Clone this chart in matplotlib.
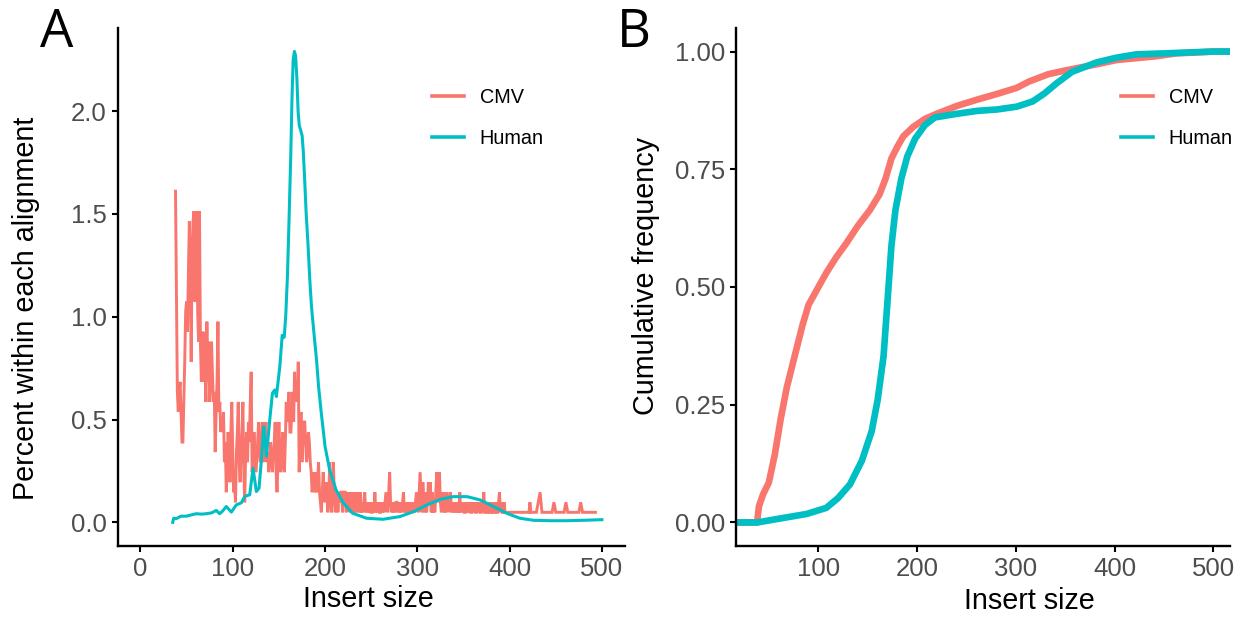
import numpy as np
import matplotlib.pyplot as plt
from matplotlib.lines import Line2D

plt.rcParams['font.family'] = ['Liberation Sans', 'DejaVu Sans']

CMV_COLOR = '#F8766D'
HUMAN_COLOR = '#00BFC4'

# panel A: CMV read counts per insert size (1 read ~ 0.0488 % of the alignment)
cmv_first_size = 38
cmv_counts = [
    33, 23, 13, 11, 13, 14, 11, 8, 8, 12,
    16, 21, 22, 19, 25, 30, 25, 16, 27, 30,
    31, 22, 27, 31, 21, 18, 31, 18, 14, 16,
    19, 14, 15, 12, 20, 14, 18, 12, 14, 18,
    15, 12, 13, 7, 11, 14, 20, 11, 12, 9,
    10, 9, 11, 6, 8, 3, 6, 9, 7, 4,
    9, 12, 7, 3, 4, 2, 7, 9, 12, 6,
    4, 7, 9, 12, 5, 2, 7, 9, 6, 10,
    8, 12, 15, 5, 6, 9, 7, 5, 6, 8,
    10, 7, 6, 8, 10, 6, 7, 9, 10, 6,
    7, 5, 6, 8, 6, 5, 7, 8, 10, 5,
    3, 6, 10, 7, 5, 6, 9, 6, 5, 8,
    12, 10, 11, 13, 9, 9, 11, 13, 10, 15,
    12, 13, 12, 16, 5, 9, 11, 6, 8, 10,
    10, 8, 6, 7, 9, 8, 6, 5, 3, 4,
    5, 3, 5, 3, 4, 6, 3, 2, 1, 3,
    5, 3, 2, 4, 3, 1, 2, 6, 3, 1,
    3, 6, 3, 1, 2, 3, 1, 3, 2, 3,
    3, 1, 3, 3, 3, 1, 3, 2, 3, 1,
    3, 1, 3, 2, 1, 3, 1, 2, 3, 1,
    3, 1, 2, 1, 2, 3, 1, 2, 1, 2,
    1, 2, 1, 1, 2, 1, 3, 1, 2, 1,
    2, 1, 1, 2, 1, 2, 1, 2, 3, 2,
    1, 3, 5, 2, 1, 2, 1, 2, 1, 2,
    2, 1, 2, 1, 2, 1, 2, 3, 1, 2,
    1, 2, 1, 2, 1, 1, 2, 1, 2, 1,
    2, 3, 2, 1, 3, 5, 3, 1, 4, 2,
    1, 3, 1, 2, 4, 2, 4, 1, 3, 1,
    2, 1, 3, 5, 2, 3, 5, 2, 1, 2,
    3, 1, 2, 1, 3, 2, 1, 2, 3, 1,
    2, 1, 2, 1, 2, 1, 2, 1, 3, 1,
    2, 1, 2, 1, 1, 2, 1, 2, 1, 2,
    1, 1, 2, 1, 2, 1, 1, 2, 1, 2,
    1, 1, 2, 1, 3, 1, 1, 2, 1, 1,
    2, 1, 1, 2, 1, 1, 1, 2, 1, 1,
    2, 3, 1, 2, 1, 1, 2, 1,
]
cmv_tail_size = [399, 421, 422, 423, 429, 431, 433, 435, 446, 448, 450,
                 459, 461, 463, 475, 477, 479, 493]
cmv_tail_count = [1, 1, 2, 1, 1, 2, 3, 1, 1, 2, 1, 1, 2, 1, 1, 2, 1, 1]
pct_per_read = 0.0488

# panel A: human insert size density (percent)
human_size = [35, 36, 38.7, 44, 49.6, 55, 60.5, 66, 71.3, 77, 82.2, 85.8, 89, 93,
              98.5, 103.9, 109.3, 113, 118.4, 122, 125.6, 128.5, 131, 133.6, 136.5,
              140.1, 143, 145.5, 147.3, 151, 153.6, 155.8, 157.5, 159.3, 161, 162.8,
              164.2, 165.5, 166.8, 168.1, 169.5, 170.8, 172.1, 173.4, 175.2, 176.5,
              177.8, 179.6, 181.7, 183.5, 185.3, 188, 191, 193, 196, 200, 205, 212,
              220, 230, 245, 263, 281, 296, 310, 325, 339, 354, 368, 383, 397, 411,
              426, 444, 462, 480, 500]
human_pct = [0.0, 0.02, 0.018, 0.03, 0.03, 0.036, 0.042, 0.04, 0.042, 0.046, 0.058,
             0.042, 0.055, 0.077, 0.05, 0.085, 0.095, 0.126, 0.134, 0.263, 0.15,
             0.166, 0.3, 0.466, 0.32, 0.498, 0.628, 0.644, 0.612, 0.757, 0.91, 0.9,
             1.01, 1.2, 1.47, 1.77, 2.06, 2.25, 2.29, 2.27, 2.16, 2.0, 1.93, 1.91,
             1.88, 1.8, 1.68, 1.5, 1.34, 1.18, 1.05, 0.92, 0.78, 0.66, 0.53, 0.37,
             0.255, 0.157, 0.093, 0.044, 0.02, 0.015, 0.028, 0.052, 0.084, 0.112,
             0.125, 0.125, 0.109, 0.076, 0.044, 0.02, 0.01, 0.008, 0.008, 0.01, 0.013]

# panel B: cumulative frequency
cmv_cdf_size = [16.5, 37.8, 39.8, 44, 49.8, 55.8, 61.8, 67.9, 75.9, 84, 90, 100, 108,
                118, 128, 140, 152, 162, 168, 174, 180, 186, 196, 208, 220, 241, 261,
                281, 301, 313, 333, 353, 382, 402, 422, 442, 462, 482, 500, 517]
cmv_cdf = [0, 0, 0.035, 0.06, 0.085, 0.144, 0.22, 0.286, 0.353, 0.42, 0.462, 0.50,
           0.53, 0.563, 0.592, 0.63, 0.663, 0.697, 0.73, 0.773, 0.798, 0.82, 0.84,
           0.857, 0.868, 0.885, 0.898, 0.91, 0.923, 0.936, 0.952, 0.961, 0.973,
           0.982, 0.986, 0.99, 0.996, 0.998, 1.0, 1.0]
human_cdf_size = [16.5, 38, 60, 88, 108, 120, 132, 144, 154, 160, 166, 170, 174, 178,
                  184, 190, 198, 208, 218, 241, 261, 281, 301, 317, 329, 341, 357,
                  382, 402, 422, 462, 500, 517]
human_cdf = [0, 0, 0.008, 0.018, 0.031, 0.052, 0.081, 0.131, 0.194, 0.26, 0.353,
             0.47, 0.588, 0.663, 0.73, 0.777, 0.815, 0.844, 0.86, 0.868, 0.874,
             0.877, 0.883, 0.894, 0.911, 0.932, 0.957, 0.977, 0.987, 0.994, 0.997,
             1.0, 1.0]

labels = ['CMV', 'Human']

cmv_size = list(range(cmv_first_size, cmv_first_size + len(cmv_counts))) + cmv_tail_size
cmv_pct = np.array(cmv_counts + cmv_tail_count) * pct_per_read

W, H = 1241, 621
fig = plt.figure(figsize=(W / 100, H / 100), dpi=100)
axA = fig.add_axes([118 / W, 1 - 546 / H, (625 - 118) / W, (546 - 28) / H])
axB = fig.add_axes([736 / W, 1 - 546 / H, (1230 - 736) / W, (546 - 28) / H])


def style(ax):
    for s in ['top', 'right']:
        ax.spines[s].set_visible(False)
    for s in ['left', 'bottom']:
        ax.spines[s].set_linewidth(1.7)
        ax.spines[s].set_color('black')
    ax.tick_params(length=4.5, width=1.5, color='black', pad=3.5,
                   labelsize=18.5, labelcolor='#4D4D4D')


# A
axA.plot(cmv_size, cmv_pct, color=CMV_COLOR, lw=2.1, solid_joinstyle='miter')
axA.plot(human_size, human_pct, color=HUMAN_COLOR, lw=2.2)
axA.set_xlim(-24.3, 525)
axA.set_ylim(-0.115, 2.404)
axA.set_xticks([0, 100, 200, 300, 400, 500])
axA.set_yticks([0, 0.5, 1.0, 1.5, 2.0])
axA.set_yticklabels(['0.0', '0.5', '1.0', '1.5', '2.0'])
style(axA)
axA.set_xlabel('Insert size', fontsize=20.7)
axA.xaxis.set_label_coords(0.493, -0.075)
axA.set_ylabel('Percent within each alignment', fontsize=20.7)
axA.yaxis.set_label_coords(-0.154, 0.459)

# B
axB.plot(cmv_cdf_size, cmv_cdf, color=CMV_COLOR, lw=4.8)
axB.plot(human_cdf_size, human_cdf, color=HUMAN_COLOR, lw=4.8)
axB.set_xlim(16.5, 517)
axB.set_ylim(-0.05, 1.05)
axB.set_xticks([100, 200, 300, 400, 500])
axB.set_yticks([0, 0.25, 0.5, 0.75, 1.0])
axB.set_yticklabels(['0.00', '0.25', '0.50', '0.75', '1.00'])
style(axB)
axB.set_xlabel('Insert size', fontsize=20.7)
axB.xaxis.set_label_coords(0.593, -0.08)
axB.set_ylabel('Cumulative frequency', fontsize=20.7)
axB.yaxis.set_label_coords(-0.1535, 0.521)

handles = [Line2D([], [], color=CMV_COLOR, lw=2.6),
           Line2D([], [], color=HUMAN_COLOR, lw=2.6)]
for x0 in [432 / W, 1121 / W]:
    fig.legend(handles, labels, loc='upper left', bbox_to_anchor=(x0, 1 - 88 / H),
               frameon=False, fontsize=14.3, handlelength=1.6, handletextpad=0.8,
               labelspacing=1.1, borderpad=0, borderaxespad=0)

fig.text(40 / W, 1 - 47 / H, 'A', fontsize=38, family=['Open Sans', 'DejaVu Sans'],
         va='baseline', ha='left')
fig.text(617 / W, 1 - 47 / H, 'B', fontsize=38, family=['Open Sans', 'DejaVu Sans'],
         va='baseline', ha='left')

fig.savefig('out.png', dpi=100)
